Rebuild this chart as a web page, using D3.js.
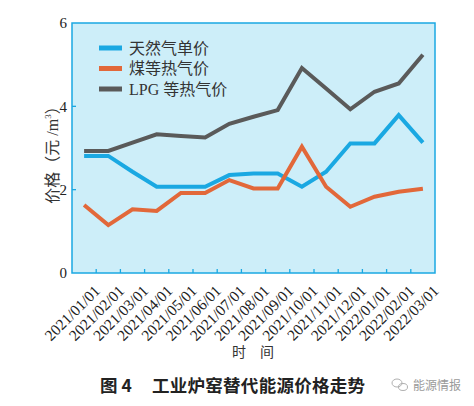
<!DOCTYPE html>
<html><head><meta charset="utf-8">
<script src="https://cdn.jsdelivr.net/npm/d3@7"></script>
<style>
html,body{margin:0;padding:0;background:#fff;}
svg{display:block;}
</style></head>
<body>
<svg id="chart" width="474" height="406"></svg>
<script>
const categories = ["2021/01/01","2021/02/01","2021/03/01","2021/04/01","2021/05/01","2021/06/01","2021/07/01","2021/08/01","2021/09/01","2021/10/01","2021/11/01","2021/12/01","2022/01/01","2022/02/01","2022/03/01"];
const gasPrice  = [2.81,2.81,2.43,2.07,2.07,2.07,2.35,2.39,2.39,2.07,2.43,3.11,3.11,3.79,3.13];
const coalPrice = [1.63,1.15,1.53,1.49,1.92,1.92,2.23,2.03,2.03,3.03,2.07,1.59,1.83,1.95,2.02];
const lpgPrice  = [2.93,2.93,3.13,3.33,3.29,3.25,3.58,3.75,3.91,4.92,4.43,3.93,4.35,4.55,5.24];
const yTicks = [0,2,4,6];
const seriesNames = ["天然气单价","煤等热气价","LPG 等热气价"];
const seriesColors = ["#1aa8e2","#e2683a","#5a5a5a"];
const seriesData = [gasPrice, coalPrice, lpgPrice];

const svg = d3.select("#chart");
const L = 72, R = 435, T = 23, B = 273;
const serif = "'Liberation Serif','Noto Serif CJK SC','Noto Sans CJK SC',serif";
const cjk = "'Liberation Serif','Noto Sans CJK SC',sans-serif";

const x = d3.scaleBand().domain(categories).range([L, R]).padding(0);
const y = d3.scaleLinear().domain([0, 6]).range([B, T]);

// plot background
svg.append("rect").attr("x", L).attr("y", T).attr("width", R - L).attr("height", B - T)
  .attr("fill", "#cdeef9").attr("stroke", "#1aa8e2").attr("stroke-width", 1.5);

// x axis ticks (inward) at band boundaries
const xb = categories.slice(1).map(c => x(c));
svg.append("g").selectAll("line").data(xb).join("line")
  .attr("x1", d => d).attr("x2", d => d).attr("y1", B).attr("y2", B - 4)
  .attr("stroke", "#1aa8e2").attr("stroke-width", 1.3);

// y axis ticks inward
svg.append("g").selectAll("line").data(yTicks.slice(1, -1)).join("line")
  .attr("x1", L).attr("x2", L + 4).attr("y1", d => y(d)).attr("y2", d => y(d))
  .attr("stroke", "#1aa8e2").attr("stroke-width", 1.3);

// y tick labels
svg.append("g").selectAll("text").data(yTicks).join("text")
  .attr("x", 67).attr("y", d => y(d)).attr("dy", "0.35em")
  .attr("text-anchor", "end").attr("font-family", serif).attr("font-size", 15)
  .attr("fill", "#222").text(d => d);

// x tick labels
svg.append("g").selectAll("text").data(categories).join("text")
  .attr("transform", d => `translate(${x(d) + x.bandwidth() / 2 + 13},${288}) rotate(-45)`)
  .attr("dy", "0.35em").attr("text-anchor", "end")
  .attr("font-family", serif).attr("font-size", 15.5).attr("fill", "#222").text(d => d);

// y axis title
const yt = svg.append("text").attr("transform", `translate(58,151) rotate(-90)`)
  .attr("text-anchor", "middle").attr("font-family", cjk).attr("font-size", 16).attr("fill", "#333");
yt.append("tspan").text("价格（元 /m");
yt.append("tspan").attr("font-size", 9).attr("dy", -7).text("3");
yt.append("tspan").attr("dy", 7).text("）");

// x axis title
svg.append("text").attr("x", 253).attr("y", 357).attr("text-anchor", "middle")
  .attr("font-family", cjk).attr("font-size", 14).attr("fill", "#333").text("时　间");

// lines
const line = d3.line().x((d, i) => x(categories[i]) + x.bandwidth() / 2).y(d => y(d));
seriesData.forEach((s, k) => {
  svg.append("path").datum(s).attr("d", line).attr("fill", "none")
    .attr("stroke", seriesColors[k]).attr("stroke-width", 4).attr("stroke-linejoin", "miter");
});

// legend
const lg = svg.append("g").selectAll("g").data(seriesNames).join("g")
  .attr("transform", (d, i) => `translate(99,${48 + i * 20.5})`);
lg.append("line").attr("x1", 0).attr("x2", 23).attr("stroke", (d, i) => seriesColors[i]).attr("stroke-width", 5);
lg.append("text").attr("x", 30).attr("dy", "0.35em").attr("font-family", cjk).attr("font-size", 16)
  .attr("fill", "#333").text(d => d);

// caption
const cap = svg.append("g").attr("font-family", "'Noto Sans CJK SC',sans-serif")
  .attr("font-size", 17.5).attr("font-weight", "bold").attr("fill", "#222");
cap.append("text").attr("x", 100).attr("y", 392).text("图 4");
cap.append("text").attr("x", 152).attr("y", 392).attr("textLength", 213).text("工业炉窑替代能源价格走势");

// watermark
svg.append("text").attr("x", 413).attr("y", 390).attr("font-family", "'Noto Sans CJK SC',sans-serif")
  .attr("font-size", 12).attr("fill", "#9a9a9a").text("能源情报");
const wm = svg.append("g").attr("transform", "translate(400,385)").attr("fill", "none").attr("stroke", "#b0b0b0").attr("stroke-width", 1);
wm.append("ellipse").attr("cx", -3).attr("cy", -2).attr("rx", 5).attr("ry", 4);
wm.append("ellipse").attr("cx", 3).attr("cy", 2).attr("rx", 4.5).attr("ry", 3.5);
</script>
</body></html>
